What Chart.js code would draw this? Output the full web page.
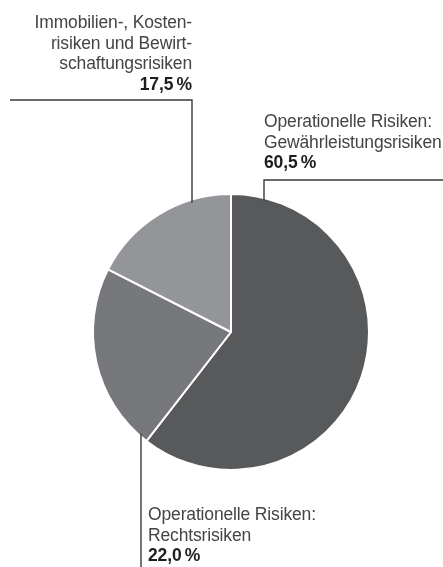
<!DOCTYPE html>
<html>
<head>
<meta charset="utf-8">
<script src="https://cdn.jsdelivr.net/npm/chart.js@4.4.1/dist/chart.umd.min.js"></script>
<style>
  html, body { margin: 0; padding: 0; background: #fff; }
  #wrap { width: 443px; height: 567px; }
</style>
</head>
<body>
<div id="wrap"><canvas id="riskChart"></canvas></div>
<script>
// Daten
const categories = [
  'Operationelle Risiken: Gewährleistungsrisiken',
  'Operationelle Risiken: Rechtsrisiken',
  'Immobilien-, Kostenrisiken und Bewirtschaftungsrisiken'
];
const labelLines = [
  ['Operationelle Risiken:', 'Gewährleistungsrisiken'],
  ['Operationelle Risiken:', 'Rechtsrisiken'],
  ['Immobilien-, Kosten-', 'risiken und Bewirt-', 'schaftungsrisiken']
];
const shares = [60.5, 22.0, 17.5];
const sliceColors = ['#58595b', '#77787b', '#939598'];

// Beschriftung: Textposition + Führungslinie je Segment
const calloutLayout = [
  { textX: 264, align: 'left',  baseline: 127, lineX: 264, side: 'top',    elbowY: 180, endX: 443 },
  { textX: 148, align: 'left',  baseline: 520, lineX: 141, side: 'bottom', elbowY: 567, endX: null },
  { textX: 192, align: 'right', baseline: 28,  lineX: 192, side: 'top',    elbowY: 100, endX: 10 }
];
const lineHeight = 20.7;
const fontFamily = '"Liberation Sans", Arial, sans-serif';

const fmtPct = v => v.toFixed(1).replace('.', ',') + '\u2009%';

const calloutPlugin = {
  id: 'callouts',
  afterDraw(chart) {
    const ctx = chart.ctx;
    const arcs = chart.getDatasetMeta(0).data;
    ctx.save();
    arcs.forEach((arc, i) => {
      const cfg = calloutLayout[i];
      const { x, y, outerRadius } = arc.getProps(['x', 'y', 'outerRadius'], true);
      const dx = cfg.lineX - x;
      const dy = Math.sqrt(Math.max(outerRadius * outerRadius - dx * dx, 0));
      const edgeY = cfg.side === 'top' ? y - dy + 3 : y + dy - 3;

      // Führungslinie
      ctx.strokeStyle = '#3a3a3a';
      ctx.lineWidth = 1.4;
      ctx.beginPath();
      ctx.moveTo(cfg.lineX, edgeY);
      ctx.lineTo(cfg.lineX, cfg.elbowY);
      if (cfg.endX !== null) ctx.lineTo(cfg.endX, cfg.elbowY);
      ctx.stroke();

      // Text
      ctx.textAlign = cfg.align;
      ctx.textBaseline = 'alphabetic';
      ctx.letterSpacing = '-0.15px';
      ctx.fillStyle = '#444444';
      ctx.font = '17.5px ' + fontFamily;
      const lines = labelLines[i];
      lines.forEach((t, k) => ctx.fillText(t, cfg.textX, cfg.baseline + k * lineHeight));
      ctx.fillStyle = '#1e1e1e';
      ctx.font = 'bold 17.5px ' + fontFamily;
      ctx.fillText(fmtPct(shares[i]), cfg.textX, cfg.baseline + lines.length * lineHeight);
    });
    ctx.restore();
  }
};

new Chart(document.getElementById('riskChart'), {
  type: 'pie',
  data: {
    labels: categories,
    datasets: [{
      data: shares,
      backgroundColor: sliceColors,
      borderColor: '#ffffff',
      borderWidth: 2,
      radius: 138
    }]
  },
  options: {
    responsive: true,
    maintainAspectRatio: false,
    animation: false,
    layout: { padding: { left: 19, top: 97, right: 0, bottom: 0 } },
    plugins: {
      legend: { display: false },
      tooltip: { enabled: false }
    }
  },
  plugins: [calloutPlugin]
});
</script>
</body>
</html>
